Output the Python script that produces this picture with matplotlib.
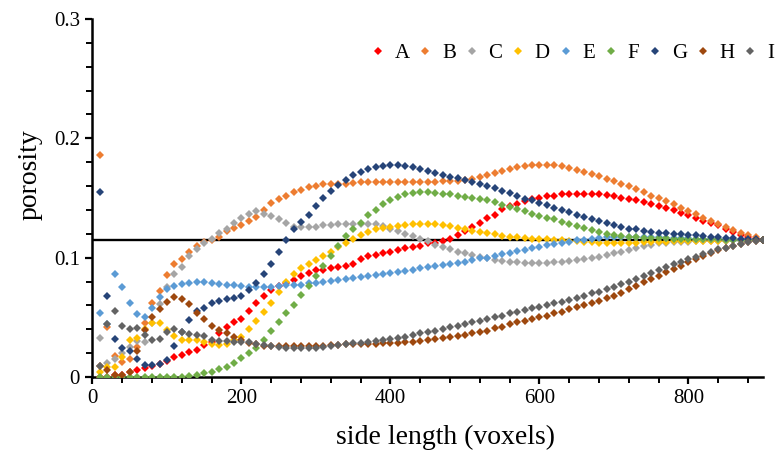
import numpy as np
import matplotlib
matplotlib.use("Agg")
import matplotlib.pyplot as plt
from matplotlib.ticker import MultipleLocator, FuncFormatter

# side length of the sub-volume (voxels), one point every 10 voxels
side_length = np.arange(10, 901, 10)

porosity_a = [0.0, 0.0, 0.002, 0.002, 0.0045, 0.0055, 0.0075, 0.0092, 0.0106, 0.013, 0.0165, 0.0184, 0.0212, 0.023, 0.0268, 0.0296, 0.037,
              0.042, 0.0457, 0.049, 0.0555, 0.0616, 0.068, 0.0728, 0.0764, 0.079, 0.081, 0.085, 0.087, 0.0895, 0.090, 0.0915, 0.092, 0.093, 0.095, 0.0985,
              0.101, 0.102, 0.104, 0.105, 0.106, 0.108, 0.109, 0.110, 0.112, 0.112, 0.114, 0.116, 0.119, 0.122, 0.126, 0.129, 0.133, 0.136,
              0.141, 0.143, 0.145, 0.1475, 0.1495, 0.150, 0.1515, 0.152, 0.153, 0.1537, 0.1537, 0.1537, 0.153, 0.153, 0.1523, 0.1515, 0.150, 0.1495,
              0.148, 0.1467, 0.1453, 0.143, 0.1417, 0.1397, 0.1378, 0.1356, 0.1333, 0.131, 0.129, 0.127, 0.1244, 0.1216, 0.1194, 0.1174, 0.116, 0.1146]

porosity_b = [0.186, 0.042, 0.0176, 0.0126, 0.0148, 0.025, 0.045, 0.062, 0.0717, 0.0854, 0.0946, 0.099, 0.1046, 0.110, 0.113, 0.1146, 0.1174,
              0.1225, 0.125, 0.127, 0.1305, 0.134, 0.140, 0.146, 0.1495, 0.152, 0.155, 0.157, 0.159, 0.160, 0.1615, 0.162, 0.162, 0.162, 0.1625, 0.163,
              0.1635, 0.1635, 0.1635, 0.1635, 0.1635, 0.1635, 0.1635, 0.1635, 0.1635, 0.1635, 0.164, 0.164, 0.164, 0.165, 0.166, 0.1676, 0.169, 0.171,
              0.173, 0.1746, 0.176, 0.1768, 0.1774, 0.1774, 0.1774, 0.1774, 0.1766, 0.1755, 0.1738, 0.1718, 0.1704, 0.1685, 0.166, 0.164, 0.162, 0.160,
              0.1573, 0.155, 0.152, 0.150, 0.1473, 0.1448, 0.142, 0.139, 0.1364, 0.1336, 0.131, 0.128, 0.1255, 0.123, 0.121, 0.119, 0.117, 0.1146]

porosity_c = [0.033, 0.012, 0.015, 0.020, 0.025, 0.030, 0.029, 0.045, 0.061, 0.075, 0.086, 0.092, 0.101, 0.107, 0.112, 0.116, 0.121,
              0.124, 0.129, 0.133, 0.137, 0.139, 0.137, 0.135, 0.132, 0.129, 0.126, 0.126, 0.126, 0.126, 0.127, 0.127, 0.128, 0.128, 0.128, 0.128,
              0.1286, 0.1286, 0.1264, 0.1244, 0.122, 0.120, 0.118, 0.116, 0.114, 0.111, 0.109, 0.107, 0.105, 0.1035, 0.102, 0.1007, 0.0999, 0.098,
              0.097, 0.0965, 0.096, 0.0957, 0.0957, 0.0957, 0.0957, 0.096, 0.0965, 0.097, 0.098, 0.0987, 0.0999, 0.1007, 0.102, 0.1035, 0.1049, 0.1068,
              0.1082, 0.1096, 0.111, 0.112, 0.1124, 0.113, 0.1133, 0.1135, 0.1138, 0.114, 0.114, 0.1143, 0.1143, 0.1144, 0.1145, 0.1145, 0.1146, 0.1146]

porosity_d = [0.004, 0.0086, 0.0086, 0.017, 0.031, 0.033, 0.040, 0.0455, 0.0455, 0.039, 0.034, 0.031, 0.031, 0.031, 0.0296, 0.0276, 0.0268,
              0.0276, 0.031, 0.0338, 0.040, 0.047, 0.0547, 0.062, 0.0714, 0.080, 0.086, 0.091, 0.0946, 0.098, 0.101, 0.105, 0.109, 0.1124, 0.116, 0.119,
              0.1216, 0.1236, 0.125, 0.126, 0.1266, 0.127, 0.1278, 0.128, 0.128, 0.1278, 0.127, 0.1264, 0.125, 0.124, 0.1225, 0.1216, 0.1208, 0.1197,
              0.1183, 0.1174, 0.1169, 0.1163, 0.116, 0.1158, 0.1155, 0.1152, 0.1146, 0.114, 0.1138, 0.1133, 0.1127, 0.1124, 0.1124, 0.1124, 0.1124, 0.1124,
              0.1126, 0.1128, 0.113, 0.1132, 0.1134, 0.1136, 0.1137, 0.1138, 0.1139, 0.114, 0.1141, 0.1142, 0.1143, 0.1144, 0.1145, 0.1145, 0.1146, 0.1146]

porosity_e = [0.054, 0.044, 0.086, 0.075, 0.062, 0.053, 0.050, 0.058, 0.067, 0.074, 0.076, 0.078, 0.079, 0.080, 0.080, 0.079, 0.078,
              0.0775, 0.077, 0.0764, 0.0756, 0.075, 0.075, 0.0756, 0.0764, 0.077, 0.0775, 0.0775, 0.0784, 0.079, 0.0798, 0.0803, 0.0812, 0.0817, 0.0826, 0.0834,
              0.0845, 0.0854, 0.0862, 0.0873, 0.0881, 0.089, 0.090, 0.091, 0.0918, 0.0929, 0.0937, 0.0946, 0.0957, 0.0965, 0.0979, 0.0993, 0.100, 0.101,
              0.103, 0.1043, 0.1054, 0.1068, 0.1082, 0.109, 0.1105, 0.1113, 0.1124, 0.1133, 0.1146, 0.1152, 0.116, 0.1166, 0.1169, 0.1174, 0.1174, 0.1174,
              0.1173, 0.1172, 0.1171, 0.117, 0.1168, 0.1166, 0.1164, 0.1162, 0.116, 0.1158, 0.1156, 0.1154, 0.1152, 0.115, 0.1149, 0.1148, 0.1147, 0.1146]

porosity_f = [0.0, 0.0, 0.0, 0.0, 0.0, 0.0, 0.0, 0.0, 0.0, 0.0, 0.0, 0.0, 0.001, 0.0017, 0.003, 0.004, 0.0064,
              0.0086, 0.0114, 0.0156, 0.0198, 0.024, 0.031, 0.0388, 0.0463, 0.0533, 0.0602, 0.0683, 0.0764, 0.0845, 0.0929, 0.1018, 0.110, 0.118, 0.1236, 0.129,
              0.1356, 0.140, 0.1448, 0.1487, 0.151, 0.153, 0.154, 0.155, 0.155, 0.1545, 0.1537, 0.153, 0.152, 0.151, 0.150, 0.149, 0.148, 0.1465,
              0.1445, 0.1425, 0.1406, 0.139, 0.137, 0.135, 0.1333, 0.132, 0.130, 0.128, 0.1264, 0.1247, 0.123, 0.1213, 0.120, 0.119, 0.118, 0.1174,
              0.117, 0.1168, 0.1166, 0.1164, 0.1162, 0.116, 0.116, 0.1158, 0.1157, 0.1155, 0.1154, 0.1153, 0.1152, 0.1151, 0.115, 0.1149, 0.1148, 0.1146]

porosity_g = [0.155, 0.068, 0.032, 0.024, 0.022, 0.015, 0.010, 0.010, 0.011, 0.014, 0.026, 0.038, 0.048, 0.055, 0.058, 0.062, 0.064,
              0.065, 0.066, 0.068, 0.073, 0.079, 0.086, 0.095, 0.105, 0.115, 0.124, 0.130, 0.136, 0.143, 0.150, 0.156, 0.161, 0.165, 0.169, 0.172,
              0.1746, 0.176, 0.1768, 0.1774, 0.1774, 0.1768, 0.176, 0.174, 0.1727, 0.171, 0.1696, 0.168, 0.1668, 0.1654, 0.1635, 0.162, 0.160, 0.158,
              0.156, 0.154, 0.1515, 0.1495, 0.148, 0.146, 0.144, 0.142, 0.1397, 0.138, 0.136, 0.134, 0.132, 0.1305, 0.129, 0.127, 0.1258, 0.1244,
              0.1236, 0.1225, 0.1216, 0.121, 0.1205, 0.1202, 0.1197, 0.119, 0.1186, 0.118, 0.1174, 0.1172, 0.1166, 0.1163, 0.116, 0.1158, 0.1155, 0.1146]

porosity_h = [0.009, 0.006, 0.002, 0.002, 0.004, 0.022, 0.039, 0.050, 0.057, 0.063, 0.067, 0.065, 0.061, 0.054, 0.0485, 0.043, 0.039,
              0.0365, 0.0338, 0.031, 0.0287, 0.0273, 0.0262, 0.026, 0.026, 0.026, 0.0262, 0.0262, 0.0262, 0.0262, 0.0262, 0.0268, 0.0268, 0.0273, 0.0273, 0.0276,
              0.0273, 0.0276, 0.0282, 0.0282, 0.0287, 0.029, 0.0296, 0.030, 0.031, 0.0315, 0.0324, 0.0332, 0.0343, 0.0351, 0.0365, 0.0374, 0.0388, 0.0407,
              0.0421, 0.0441, 0.0457, 0.047, 0.0485, 0.050, 0.0513, 0.0533, 0.0547, 0.0566, 0.0583, 0.0602, 0.0622, 0.0639, 0.0658, 0.0678, 0.0706, 0.0736,
              0.0764, 0.0792, 0.082, 0.0848, 0.0876, 0.0904, 0.0932, 0.096, 0.0985, 0.1013, 0.104, 0.1063, 0.1082, 0.1099, 0.1113, 0.1127, 0.1138, 0.1146]

porosity_i = [0.009, 0.044, 0.055, 0.043, 0.040, 0.041, 0.035, 0.031, 0.0315, 0.038, 0.040, 0.038, 0.036, 0.035, 0.034, 0.031, 0.030,
              0.0304, 0.0296, 0.0296, 0.029, 0.0276, 0.0268, 0.026, 0.0248, 0.0245, 0.0245, 0.0245, 0.0245, 0.0245, 0.0254, 0.026, 0.0268, 0.0276, 0.0282, 0.0287,
              0.0296, 0.030, 0.031, 0.0318, 0.0329, 0.0338, 0.0351, 0.0365, 0.0374, 0.0388, 0.0402, 0.0416, 0.043, 0.0444, 0.0457, 0.047, 0.0483, 0.050,
              0.051, 0.0533, 0.0547, 0.056, 0.0575, 0.0589, 0.0603, 0.0616, 0.063, 0.0644, 0.0664, 0.068, 0.070, 0.0714, 0.0734, 0.0756, 0.0778, 0.080,
              0.0823, 0.0845, 0.0873, 0.0895, 0.0923, 0.0946, 0.0965, 0.0985, 0.1007, 0.103, 0.105, 0.107, 0.1085, 0.1099, 0.1113, 0.1127, 0.1138, 0.1146]

labels = ["A", "B", "C", "D", "E", "F", "G", "H", "I"]
series = [porosity_a, porosity_b, porosity_c, porosity_d, porosity_e,
          porosity_f, porosity_g, porosity_h, porosity_i]
colors = ["#FF0000", "#ED7D31", "#A5A5A5", "#FFC000", "#5B9BD5",
          "#70AD47", "#264478", "#9E480E", "#636363"]

overall_porosity = 0.1146

plt.rcParams["font.family"] = ["Liberation Serif", "DejaVu Serif"]

fig = plt.figure(figsize=(7.79, 4.70), dpi=100)
ax = fig.add_axes([0.1187, 0.1979, 0.8607, 0.7617])

ax.axhline(overall_porosity, color="black", linewidth=1.7, zorder=1.5)

for lab, vals, col in zip(labels, series, colors):
    ax.plot(side_length, vals, linestyle="none", marker="D", markersize=3.8,
            markeredgewidth=0, color=col, label=lab, zorder=3)

ax.set_xlim(0, 900)
ax.set_ylim(0, 0.3)
ax.xaxis.set_major_locator(MultipleLocator(200))
ax.xaxis.set_minor_locator(MultipleLocator(40))
ax.yaxis.set_major_locator(MultipleLocator(0.1))
ax.yaxis.set_minor_locator(MultipleLocator(0.02))
ax.yaxis.set_major_formatter(FuncFormatter(lambda v, p: "0" if abs(v) < 1e-9 else f"{v:.1f}"))

for s in ["top", "right"]:
    ax.spines[s].set_visible(False)
for s in ["left", "bottom"]:
    ax.spines[s].set_linewidth(1.8)

ax.tick_params(which="major", direction="out", length=5, width=1.6, labelsize=15, pad=4)
ax.tick_params(which="minor", direction="out", length=4, width=1.4)

ax.set_xlabel("side length (voxels)", fontsize=20, va="center")
ax.xaxis.set_label_coords(0.526, -0.168)
ax.set_ylabel("porosity", fontsize=20, va="center")
ax.yaxis.set_label_coords(-0.093, 0.564)

ax.legend(loc="center right", bbox_to_anchor=(774 / 779, 1 - 53 / 470),
          bbox_transform=fig.transFigure, ncol=9, frameon=False, fontsize=15,
          handlelength=0.8, handletextpad=0.4, columnspacing=0.36,
          borderpad=0, borderaxespad=0, markerscale=1.0)

fig.savefig("out.png", dpi=100, facecolor="white")
